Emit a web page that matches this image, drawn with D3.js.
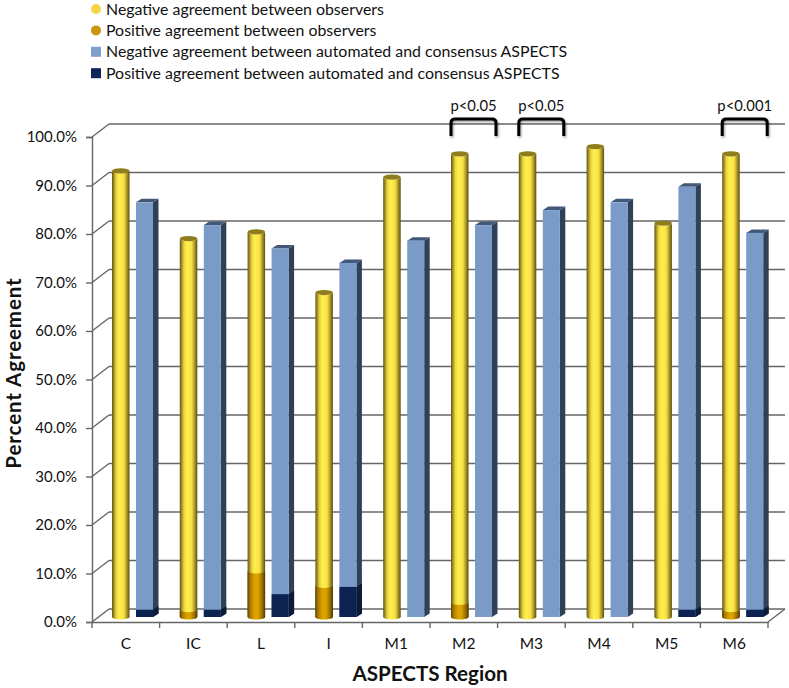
<!DOCTYPE html>
<html><head><meta charset="utf-8">
<script src="https://cdn.jsdelivr.net/npm/d3@7"></script>
<style>html,body{margin:0;padding:0;background:#fff}svg{display:block}text{font-family:Lato,"Open Sans",sans-serif;fill:#111}</style>
</head><body><div id="c"></div>
<script>
const categories=["C","IC","L","I","M1","M2","M3","M4","M5","M6"];
const negObservers=[92,78,79.4,66.9,90.7,95.5,95.5,97,81.2,95.5];
const posObservers=[0,1.5,9.5,6.5,0,3,0,0,0,1.5];
const negAutomated=[85.5,80.8,76,73,77.6,80.8,83.9,85.5,88.7,79.2];
const posAutomated=[1.5,1.5,4.7,6.2,0,0,0,0,1.5,1.5];
const yTicks=[0,10,20,30,40,50,60,70,80,90,100];
const legendLabels=["Negative agreement between observers","Positive agreement between observers","Negative agreement between automated and consensus ASPECTS","Positive agreement between automated and consensus ASPECTS"];
const legendColors=["#f6d448","#c8960c","#7f9fcb","#0c2456"];
const significance=[["M2","p<0.05"],["M3","p<0.05"],["M6","p<0.001"]];

const W=789,H=688,dx=17,dy=13,barDepthX=5.5,barDepthY=3.5,floorLift=5;
const svg=d3.select("#c").append("svg").attr("width",W).attr("height",H);
const y=d3.scaleLinear().domain([0,100]).range([622,137]);
const xAxisScale=d3.scaleBand().domain(categories).range([92,768]);
const xMarks=d3.scaleBand().domain(categories).range([92,770]);
const yb=v=>y(v)-floorLift;

const defs=svg.append("defs");
function grad(id,stops){const g=defs.append("linearGradient").attr("id",id);
 stops.forEach(([o,c])=>g.append("stop").attr("offset",o).attr("stop-color",c));}
grad("gy",[[0,"#5f5312"],[.1,"#9c8a26"],[.24,"#ecd43e"],[.42,"#fff04e"],[.68,"#f8e044"],[.84,"#b09a28"],[1,"#5a4e10"]]);
grad("go",[[0,"#5c4200"],[.15,"#a87a00"],[.4,"#dca200"],[.6,"#dca200"],[.85,"#946a00"],[1,"#4e3800"]]);
const blur=defs.append("filter").attr("id","sh").attr("x","-20%").attr("y","-20%").attr("width","140%").attr("height","150%");
blur.append("feDropShadow").attr("dx",1).attr("dy",1.5).attr("stdDeviation",1).attr("flood-color","#000").attr("flood-opacity",.4);

// back wall and floor
const grid="#666";
const g=svg.append("g").attr("fill","none").attr("stroke",grid).attr("stroke-width",1.4);
yTicks.forEach(t=>{
 g.append("line").attr("x1",92).attr("y1",y(t)).attr("x2",92+dx).attr("y2",y(t)-dy);
 g.append("line").attr("x1",92+dx).attr("y1",y(t)-dy).attr("x2",768+dx).attr("y2",y(t)-dy);
});
g.append("line").attr("x1",768).attr("y1",y(0)).attr("x2",768+dx).attr("y2",y(0)-dy);

// axes
const ax=svg.append("g").attr("transform","translate(92,0)").call(d3.axisLeft(y).tickValues(yTicks).tickFormat(d=>d.toFixed(1)+"%").tickSize(6).tickPadding(9));
const bx=svg.append("g").attr("transform","translate(0,622)").call(d3.axisBottom(xAxisScale).tickSize(0).tickPadding(16));
[ax,bx].forEach(a=>{a.select(".domain").attr("stroke",grid).attr("stroke-width",1.4);a.selectAll("line").attr("stroke",grid).attr("stroke-width",1.4);a.selectAll("text").style("font-size","15.5px").attr("fill","#111").attr("font-family","Lato");});
ax.selectAll("text").style("font-size","15px");
bx.selectAll(".bt").data(d3.range(11)).enter().append("line").attr("class","bt").attr("x1",i=>92+i*xAxisScale.step()).attr("x2",i=>92+i*xAxisScale.step()).attr("y1",0).attr("y2",6).attr("stroke",grid).attr("stroke-width",1.4);

const cylW=17.5,barW=17,cylOff=20,barOff=44,ry=2.6;
function cyl(gp,x,v0,v1,fill,cap){
 const rx=cylW/2,t=yb(v1),b=yb(v0);
 gp.append("path").attr("d",`M${x},${t}L${x},${b}A${rx},${ry} 0 0 0 ${x+cylW},${b}L${x+cylW},${t}A${rx},${ry} 0 0 1 ${x},${t}Z`).attr("fill",fill);
 if(cap)gp.append("ellipse").attr("cx",x+rx).attr("cy",t).attr("rx",rx).attr("ry",ry).attr("fill",cap);
}
function box(gp,x,v0,v1,front,side,top){
 const t=yb(v1),b=yb(v0);
 gp.append("path").attr("d",`M${x+barW},${t}l${barDepthX},${-barDepthY}L${x+barW+barDepthX},${b-barDepthY}L${x+barW},${b}Z`).attr("fill",side);
 if(top)gp.append("path").attr("d",`M${x},${t}l${barDepthX},${-barDepthY}h${barW}l${-barDepthX},${barDepthY}Z`).attr("fill",top);
 gp.append("rect").attr("x",x).attr("y",t).attr("width",barW).attr("height",b-t).attr("fill",front);
}
const marks=svg.append("g");
categories.forEach((c,i)=>{
 const x0=xMarks(c),m=marks.append("g");
 cyl(m,x0+cylOff,0,negObservers[i],"url(#gy)","#8f7d1c");
 if(posObservers[i]>0)cyl(m,x0+cylOff,0,posObservers[i],"url(#go)",null);
 box(m,x0+barOff,0,negAutomated[i],"#7a9bc8","#2f4157","#41587a");
 if(posAutomated[i]>0)box(m,x0+barOff,0,posAutomated[i],"#0c2352","#0a1a38",null);
});

// significance brackets
significance.forEach(([c,label])=>{
 const x0=xMarks(c),l=x0+20,r=x0+65,top=119,bot=136;
 svg.append("path").attr("d",`M${l},${bot}V${top+4}Q${l},${top} ${l+4},${top}H${r-4}Q${r},${top} ${r},${top+4}V${bot}`)
  .attr("fill","none").attr("stroke","#000").attr("stroke-width",3).attr("filter","url(#sh)");
 svg.append("text").attr("x",(l+r)/2).attr("y",111).attr("text-anchor","middle").style("font-size","14.8px").text(label);
});

// legend
legendLabels.forEach((t,i)=>{
 const cy=9+i*21.4;
 if(i<2)svg.append("circle").attr("cx",96).attr("cy",cy).attr("r",5).attr("fill",legendColors[i]);
 else svg.append("rect").attr("x",91).attr("y",cy-5).attr("width",10).attr("height",10).attr("fill",legendColors[i]);
 svg.append("text").attr("x",106).attr("y",cy+5.5).style("font-size","15.9px").text(t);
});

// titles
svg.append("text").attr("x",430).attr("y",680.5).attr("text-anchor","middle").style("font-size","20.6px").style("font-weight","700").text("ASPECTS Region");
svg.append("text").attr("transform","translate(21,373) rotate(-90)").attr("text-anchor","middle").style("font-size","20.5px").style("letter-spacing","0.9px").style("font-weight","700").text("Percent Agreement");
</script></body></html>
